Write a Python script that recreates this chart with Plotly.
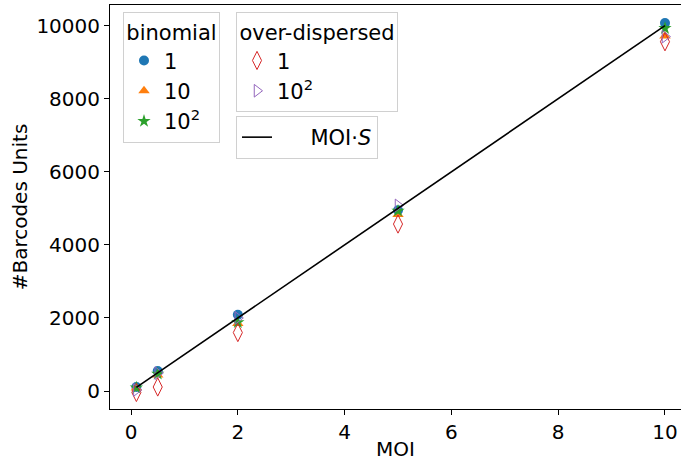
import plotly.graph_objects as go

# MOI values used in the simulations
moi = [0.1, 0.5, 2, 5, 10]

# Barcode units for binomial sampling at three multiplicities
binom_1 = [110, 550, 2090, 4950, 10070]
binom_10 = [80, 440, 1850, 4830, 9720]
binom_100 = [90, 470, 1880, 4930, 9930]

# Barcode units for over-dispersed sampling
over_1 = [-40, 110, 1600, 4570, 9560]
over_100 = [30, 490, 2000, 5080, 9700]

# Reference line MOI * S with S = 1000
S = 1000
line_x = [0.1, 10]
line_y = [m * S for m in line_x]

x_ticks = [0, 2, 4, 6, 8, 10]
y_ticks = [0, 2000, 4000, 6000, 8000, 10000]

FONT = "DejaVu Sans"
FS = 20        # axis text
LFS = 21       # legend text
W, H = 681, 461
ML, MR, MT, MB = 110, 0, 5, 52
PW, PH = W - ML - MR, H - MT - MB


def px_to_paper(px, py):
    return (px - ML) / PW, 1 - (py - MT) / PH


fig = go.Figure()

binom_series = [
    ("1", binom_1, "circle", "#1f77b4", 10),
    ("10", binom_10, "triangle-up", "#ff7f0e", 10),
    ("10<sup>2</sup>", binom_100, "star", "#2ca02c", 10),
]
for i, (name, vals, sym, col, sz) in enumerate(binom_series):
    fig.add_trace(go.Scatter(
        x=moi, y=vals, mode="markers", name=name,
        marker=dict(symbol=sym, color=col, size=sz, line=dict(width=0)),
        legend="legend", legendgroup=f"b{i}",
    ))

over_series = [
    ("1", over_1, "diamond-tall-open", "#d62728", 13),
    ("10<sup>2</sup>", over_100, "triangle-right-open", "#9467bd", 11),
]
for i, (name, vals, sym, col, sz) in enumerate(over_series):
    fig.add_trace(go.Scatter(
        x=moi, y=vals, mode="markers", name=name,
        marker=dict(symbol=sym, color=col, size=sz, line=dict(width=1, color=col)),
        legend="legend2", legendgroup=f"o{i}",
    ))

fig.add_trace(go.Scatter(
    x=line_x, y=line_y, mode="lines", name="     MOI\u00b7<i>S</i>",
    line=dict(color="black", width=1.6),
    legend="legend3",
))

legend_common = dict(
    bgcolor="rgba(255,255,255,0.8)",
    bordercolor="#d0d0d0",
    borderwidth=1,
    font=dict(family=FONT, size=LFS, color="black"),
    xanchor="left", yanchor="top",
    tracegroupgap=0,
    itemwidth=30,
)

lx1, ly1 = px_to_paper(123, 12)
lx2, ly2 = px_to_paper(236, 12)
lx3, ly3 = px_to_paper(236, 116)

fig.update_layout(
    width=W, height=H,
    margin=dict(l=ML, r=MR, t=MT, b=MB),
    paper_bgcolor="white", plot_bgcolor="white",
    font=dict(family=FONT, size=FS, color="black"),
    legend=dict(
        **legend_common, x=lx1, y=ly1,
        title=dict(text="binomial", side="top center",
                   font=dict(family=FONT, size=LFS)),
    ),
    legend2=dict(
        **legend_common, x=lx2, y=ly2,
        title=dict(text="over-dispersed", side="top center",
                   font=dict(family=FONT, size=LFS)),
    ),
    legend3=dict(**legend_common, x=lx3, y=ly3),
    xaxis=dict(
        range=[-0.394, 10.30],
        tickvals=x_ticks, ticktext=[str(v) for v in x_ticks],
        ticks="outside", ticklen=5, tickwidth=1, tickcolor="black",
        showline=True, linecolor="black", linewidth=1, mirror=True,
        showgrid=False, zeroline=False, automargin=False,
        tickfont=dict(family=FONT, size=FS),
        title=dict(text="MOI", font=dict(family=FONT, size=FS), standoff=0),
    ),
    yaxis=dict(
        range=[-492, 10566],
        tickvals=y_ticks, ticktext=[str(v) for v in y_ticks],
        ticks="outside", ticklen=5, tickwidth=1, tickcolor="black",
        showline=True, linecolor="black", linewidth=1,
        showgrid=False, zeroline=False, automargin=False,
        tickfont=dict(family=FONT, size=FS),
        title=dict(text="#Barcodes Units", font=dict(family=FONT, size=FS), standoff=3),
    ),
)

fig.write_html("out.html")
